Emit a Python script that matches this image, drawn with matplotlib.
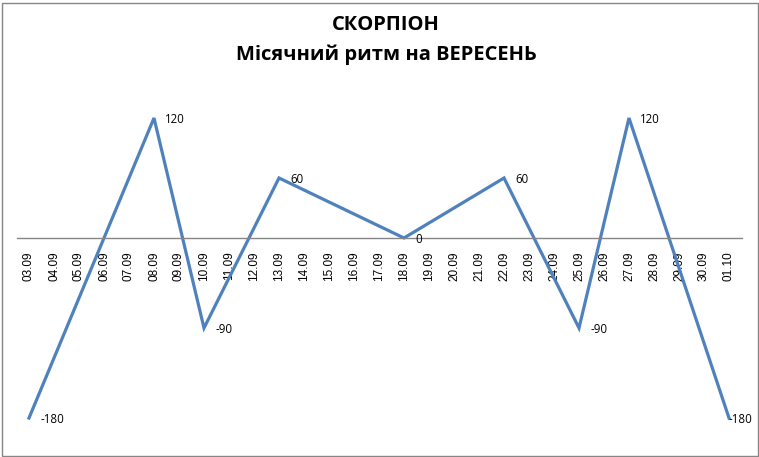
import matplotlib.pyplot as plt
from matplotlib.patches import Rectangle

# Category axis: 03.09 .. 01.10
dates = ["%02d.09" % d for d in range(3, 31)] + ["01.10"]
# Points of the rhythm (only these dates carry values)
point_dates = ["03.09", "08.09", "10.09", "13.09", "18.09", "22.09", "25.09", "27.09", "01.10"]
point_values = [-180, 120, -90, 60, 0, 60, -90, 120, -180]

title = "СКОРПІОН\nМісячний ритм на ВЕРЕСЕНЬ"

fig = plt.figure(figsize=(7.59, 4.57), dpi=100)
ax = fig.add_axes([16.5 / 759, 1 - 438 / 457, 725 / 759, 350 / 457])

# axis crosses at zero (set before tick styling, it resets the ticks)
for s in ["top", "right", "left"]:
    ax.spines[s].set_visible(False)
ax.spines["bottom"].set_position(("data", 0))
ax.spines["bottom"].set_color("#868686")
ax.spines["bottom"].set_linewidth(1.0)
ax.patch.set_visible(False)

xs = [dates.index(d) for d in point_dates]
ax.plot(xs, point_values, color="#4F81BD", linewidth=2.3, solid_joinstyle="miter")

for i, (x, v) in enumerate(zip(xs, point_values)):
    # the last label is pushed inside the chart, as Excel does
    dx = 0 if i == len(xs) - 1 else 8
    ax.annotate(str(v), (x, v), xytext=(dx, -1), textcoords="offset points",
                ha="left", va="center", fontsize=8.3, family="Open Sans")

ax.set_xlim(-0.5, len(dates) - 0.5)
ax.set_ylim(-200, 150)
ax.set_xticks(range(len(dates)))
ax.set_xticklabels(dates, rotation=90, fontsize=8.5, family="Liberation Sans")
ax.tick_params(axis="x", length=0, pad=9.5)
ax.set_yticks([])

fig.text(386 / 759, 1 - 40 / 457, title, ha="center", va="center",
         fontsize=14.5, fontweight="bold", family="Open Sans", linespacing=1.6)

fig.patches.append(Rectangle((1.5 / 759, 1.5 / 457), 756 / 759, 453 / 457,
                             transform=fig.transFigure, fill=False,
                             edgecolor="#868686", linewidth=1.0))

fig.savefig("out.png", dpi=100)
